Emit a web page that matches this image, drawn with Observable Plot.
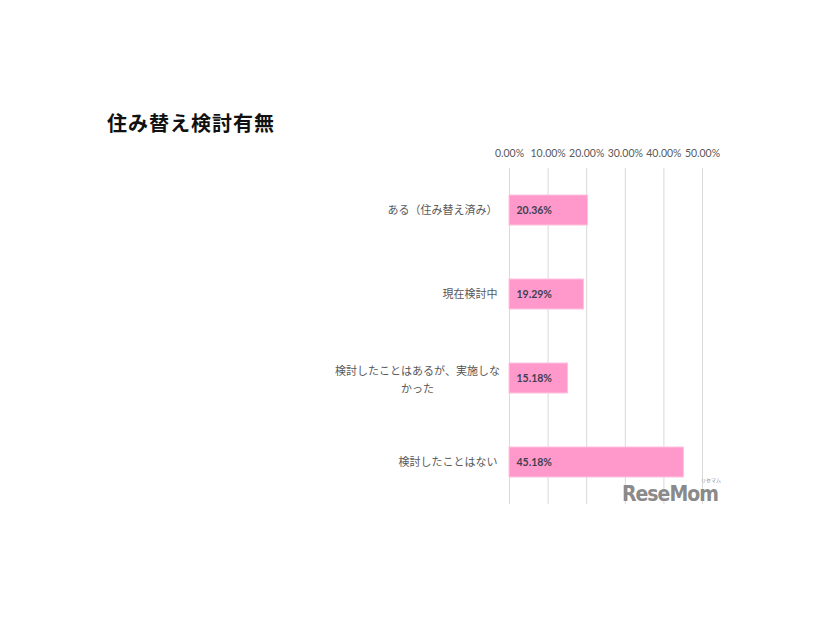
<!DOCTYPE html>
<html><head><meta charset="utf-8">
<script src="https://cdn.jsdelivr.net/npm/d3@7"></script>
<script src="https://cdn.jsdelivr.net/npm/@observablehq/plot@0.6"></script>
<style>
body{margin:0;background:#fff;font-family:Lato,"Noto Sans CJK JP",sans-serif;}
#wrap{position:relative;width:826px;height:620px;}
#title{position:absolute;left:107px;top:108px;font-size:20px;font-weight:bold;color:#111;font-family:"Noto Sans CJK JP",sans-serif;letter-spacing:1px;}
#logo{position:absolute;left:622px;top:484px;font-size:21px;font-weight:900;color:#8a8a8a;font-family:"DejaVu Sans Condensed","Liberation Sans Narrow",sans-serif;letter-spacing:-1px;line-height:1;}
#kana{position:absolute;left:701px;top:477px;font-size:5px;line-height:1;color:#8a8a8a;white-space:nowrap;font-family:"Noto Sans CJK JP";}
</style></head>
<body><div id="wrap"><div id="title">住み替え検討有無</div><div id="chart"></div><div id="logo">ReseMom</div><div id="kana">リセマム</div></div>
<script>
const categories = ["ある（住み替え済み）", "現在検討中", "検討したことはあるが、実施しなかった", "検討したことはない"];
const displayLabels = ["ある（住み替え済み）", "現在検討中", "検討したことはあるが、実施しな\nかった", "検討したことはない"];
const values = [0.2036, 0.1929, 0.1518, 0.4518];
const xTicks = [0, 0.1, 0.2, 0.3, 0.4, 0.5];

const data = categories.map((c, i) => ({cat: c, label: displayLabels[i], value: values[i]}));
const fmt = d => (d * 100).toFixed(2) + "%";

const chart = Plot.plot({
  width: 826, height: 620,
  marginLeft: 509, marginRight: 124, marginTop: 168, marginBottom: 116,
  style: {fontFamily: 'Lato, "Noto Sans CJK JP", sans-serif', background: "#fff"},
  x: {domain: [0, 0.5], axis: null},
  y: {domain: categories, axis: null, paddingInner: 0.64, paddingOuter: 0.32},
  marks: [
    Plot.gridX(xTicks, {stroke: "#d9d9d9", strokeOpacity: 1, strokeWidth: 1}),
    Plot.axisX(xTicks, {anchor: "top", tickSize: 0, tickPadding: 12, tickFormat: fmt, fontSize: 10.5, fill: "#595959", label: null}),
    Plot.barX(data, {x: "value", y: "cat", fill: "#ff99cc", stroke: "#ffc2e0", strokeWidth: 1}),
    Plot.text(data, {x: 0, y: "cat", text: d => fmt(d.value), textAnchor: "start", dx: 7, fontSize: 10.5, fontWeight: "bold", fill: "#3f3f4f"}),
    Plot.text(data.filter((d, i) => i !== 2), {x: 0, y: "cat", text: "label", textAnchor: "end", dx: -12, fontSize: 11, fill: "#595959", fontFamily: '"Noto Sans CJK JP", sans-serif'}),
    Plot.text(data.filter((d, i) => i === 2), {x: 0, y: "cat", text: "label", textAnchor: "middle", dx: -92, fontSize: 11, lineHeight: 1.6, fill: "#595959", fontFamily: '"Noto Sans CJK JP", sans-serif'})
  ]
});
document.getElementById("chart").appendChild(chart);
</script></body></html>
